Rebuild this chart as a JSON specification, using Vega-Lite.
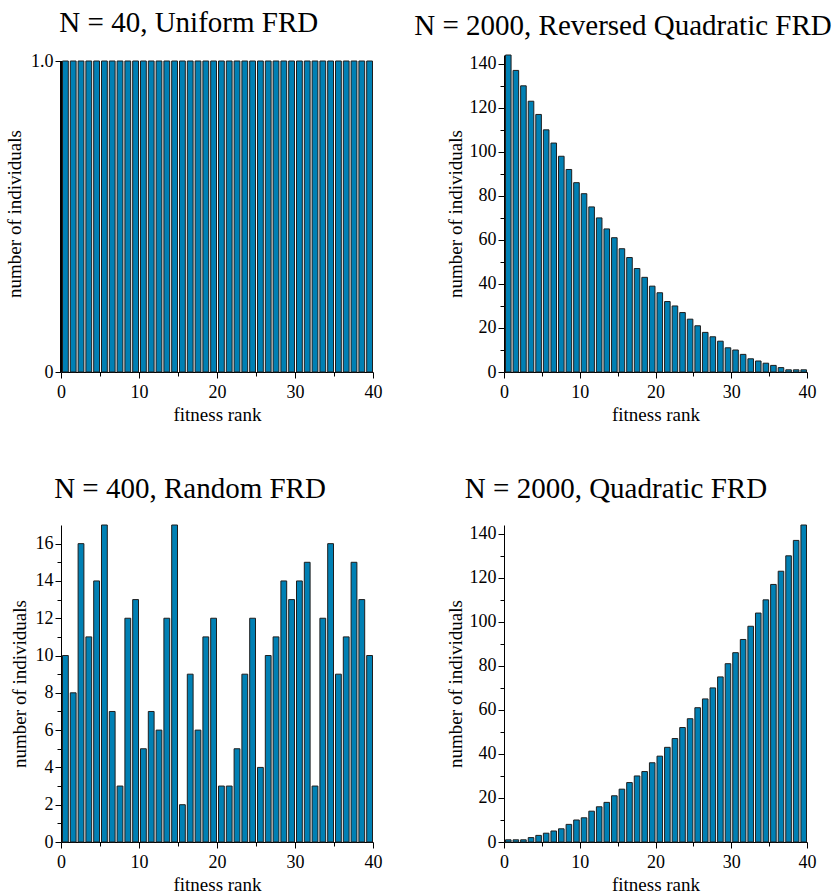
{
  "$schema": "https://vega.github.io/schema/vega-lite/v6.json",
  "padding": {"left": 5, "top": 9, "right": 5, "bottom": 0},
  "background": "white",
  "config": {
    "font": "Liberation Serif",
    "view": {"stroke": null},
    "bar": {"binSpacing": 2, "fill": "#0080b4", "stroke": "#1e1e1e", "strokeWidth": 1},
    "axis": {
      "labelFont": "Liberation Serif", "labelFontSize": 18, "labelColor": "black",
      "titleFont": "Liberation Serif", "titleFontSize": 19, "titleFontWeight": "normal", "titleColor": "black",
      "domainColor": "black", "tickColor": "black", "grid": false, "labelPadding": 2, "labelOverlap": false, "labelFlush": false
    },
    "axisX": {"labelPadding": 5},
    "title": {"font": "Liberation Serif", "fontSize": 29, "fontWeight": "normal", "color": "black", "anchor": "middle", "frame": "bounds"}
  },
  "datasets": {
    "uniform": [
      {"rank":0,"count":1},{"rank":1,"count":1},{"rank":2,"count":1},{"rank":3,"count":1},{"rank":4,"count":1},
      {"rank":5,"count":1},{"rank":6,"count":1},{"rank":7,"count":1},{"rank":8,"count":1},{"rank":9,"count":1},
      {"rank":10,"count":1},{"rank":11,"count":1},{"rank":12,"count":1},{"rank":13,"count":1},{"rank":14,"count":1},
      {"rank":15,"count":1},{"rank":16,"count":1},{"rank":17,"count":1},{"rank":18,"count":1},{"rank":19,"count":1},
      {"rank":20,"count":1},{"rank":21,"count":1},{"rank":22,"count":1},{"rank":23,"count":1},{"rank":24,"count":1},
      {"rank":25,"count":1},{"rank":26,"count":1},{"rank":27,"count":1},{"rank":28,"count":1},{"rank":29,"count":1},
      {"rank":30,"count":1},{"rank":31,"count":1},{"rank":32,"count":1},{"rank":33,"count":1},{"rank":34,"count":1},
      {"rank":35,"count":1},{"rank":36,"count":1},{"rank":37,"count":1},{"rank":38,"count":1},{"rank":39,"count":1}
    ],
    "revquad": [
      {"rank":0,"count":144},{"rank":1,"count":137},{"rank":2,"count":130},{"rank":3,"count":123},{"rank":4,"count":117},
      {"rank":5,"count":110},{"rank":6,"count":104},{"rank":7,"count":98},{"rank":8,"count":92},{"rank":9,"count":86},
      {"rank":10,"count":81},{"rank":11,"count":75},{"rank":12,"count":70},{"rank":13,"count":65},{"rank":14,"count":61},
      {"rank":15,"count":56},{"rank":16,"count":52},{"rank":17,"count":47},{"rank":18,"count":43},{"rank":19,"count":39},
      {"rank":20,"count":36},{"rank":21,"count":32},{"rank":22,"count":30},{"rank":23,"count":27},{"rank":24,"count":24},
      {"rank":25,"count":21},{"rank":26,"count":18},{"rank":27,"count":16},{"rank":28,"count":14},{"rank":29,"count":11},
      {"rank":30,"count":10},{"rank":31,"count":8},{"rank":32,"count":6},{"rank":33,"count":5},{"rank":34,"count":4},
      {"rank":35,"count":3},{"rank":36,"count":2},{"rank":37,"count":1},{"rank":38,"count":1},{"rank":39,"count":1}
    ],
    "random": [
      {"rank":0,"count":10},{"rank":1,"count":8},{"rank":2,"count":16},{"rank":3,"count":11},{"rank":4,"count":14},
      {"rank":5,"count":17},{"rank":6,"count":7},{"rank":7,"count":3},{"rank":8,"count":12},{"rank":9,"count":13},
      {"rank":10,"count":5},{"rank":11,"count":7},{"rank":12,"count":6},{"rank":13,"count":12},{"rank":14,"count":17},
      {"rank":15,"count":2},{"rank":16,"count":9},{"rank":17,"count":6},{"rank":18,"count":11},{"rank":19,"count":12},
      {"rank":20,"count":3},{"rank":21,"count":3},{"rank":22,"count":5},{"rank":23,"count":9},{"rank":24,"count":12},
      {"rank":25,"count":4},{"rank":26,"count":10},{"rank":27,"count":11},{"rank":28,"count":14},{"rank":29,"count":13},
      {"rank":30,"count":14},{"rank":31,"count":15},{"rank":32,"count":3},{"rank":33,"count":12},{"rank":34,"count":16},
      {"rank":35,"count":9},{"rank":36,"count":11},{"rank":37,"count":15},{"rank":38,"count":13},{"rank":39,"count":10}
    ],
    "quad": [
      {"rank":0,"count":1},{"rank":1,"count":1},{"rank":2,"count":1},{"rank":3,"count":2},{"rank":4,"count":3},
      {"rank":5,"count":4},{"rank":6,"count":5},{"rank":7,"count":6},{"rank":8,"count":8},{"rank":9,"count":10},
      {"rank":10,"count":11},{"rank":11,"count":14},{"rank":12,"count":16},{"rank":13,"count":18},{"rank":14,"count":21},
      {"rank":15,"count":24},{"rank":16,"count":27},{"rank":17,"count":30},{"rank":18,"count":32},{"rank":19,"count":36},
      {"rank":20,"count":39},{"rank":21,"count":43},{"rank":22,"count":47},{"rank":23,"count":52},{"rank":24,"count":56},
      {"rank":25,"count":61},{"rank":26,"count":65},{"rank":27,"count":70},{"rank":28,"count":75},{"rank":29,"count":81},
      {"rank":30,"count":86},{"rank":31,"count":92},{"rank":32,"count":98},{"rank":33,"count":104},{"rank":34,"count":110},
      {"rank":35,"count":117},{"rank":36,"count":123},{"rank":37,"count":130},{"rank":38,"count":137},{"rank":39,"count":144}
    ]
  },
  "bounds": "flush",
  "columns": 2,
  "spacing": {"row": 153, "column": 131},
  "concat": [
    {
      "title": {"text": "N = 40, Uniform FRD", "dx": -5, "offset": 14},
      "width": 312, "height": 317,
      "data": {"name": "uniform"},
      "layer": [
        {
          "mark": {"type": "bar"},
          "encoding": {
            "x": {"field": "rank", "type": "quantitative", "bin": {"binned": true, "step": 1}, "scale": {"domain": [0, 40]},
              "axis": {"title": "fitness rank", "values": [0,5,10,15,20,25,30,35,40], "labelExpr": "datum.value % 10 === 0 ? datum.label : ''",
                "labelFont": "Liberation Serif", "labelFontSize": 18, "titleFont": "Liberation Serif", "titleFontSize": 19, "labelPadding": 5,
                "tickSize": {"condition": {"test": "datum.value % 10 !== 0", "value": 4}, "value": 6}, "titlePadding": 4}},
            "y": {"field": "count", "type": "quantitative", "scale": {"domain": [0, 1.0193], "nice": false},
              "axis": {"title": "number of individuals", "domain": false, "values": [0, 1], "labelExpr": "datum.value === 1 ? '1.0' : '0'",
                "labelFont": "Liberation Serif", "labelFontSize": 18, "titleFont": "Liberation Serif", "titleFontSize": 19,
                "tickSize": 6, "titlePadding": 6}}
          }
        },
        {
          "mark": {"type": "rule", "color": "black", "strokeWidth": 1},
          "encoding": {"x": {"datum": 0}, "y": {"datum": 0}, "y2": {"datum": 1}}
        }
      ]
    },
    {
      "title": {"text": "N = 2000, Reversed Quadratic FRD", "dx": -8, "offset": 14},
      "width": 303, "height": 317,
      "data": {"name": "revquad"},
      "mark": {"type": "bar"},
      "encoding": {
        "x": {"field": "rank", "type": "quantitative", "bin": {"binned": true, "step": 1}, "scale": {"domain": [0, 40]},
          "axis": {"title": "fitness rank", "values": [0,5,10,15,20,25,30,35,40], "labelExpr": "datum.value % 10 === 0 ? datum.label : ''",
            "labelFont": "Liberation Serif", "labelFontSize": 18, "titleFont": "Liberation Serif", "titleFontSize": 19, "labelPadding": 5,
            "tickSize": {"condition": {"test": "datum.value % 10 !== 0", "value": 4}, "value": 6}, "titlePadding": 4}},
        "y": {"field": "count", "type": "quantitative", "scale": {"domain": [0, 144], "nice": false},
          "axis": {"title": "number of individuals", "values": [0,10,20,30,40,50,60,70,80,90,100,110,120,130,140], "labelExpr": "datum.value % 20 === 0 ? datum.label : ''",
            "labelFont": "Liberation Serif", "labelFontSize": 18, "titleFont": "Liberation Serif", "titleFontSize": 19,
            "tickSize": {"condition": {"test": "datum.value % 20 !== 0", "value": 4}, "value": 6}, "titlePadding": 4}}
      }
    },
    {
      "title": {"text": "N = 400, Random FRD", "dx": -6, "offset": 21},
      "width": 312, "height": 317,
      "data": {"name": "random"},
      "mark": {"type": "bar"},
      "encoding": {
        "x": {"field": "rank", "type": "quantitative", "bin": {"binned": true, "step": 1}, "scale": {"domain": [0, 40]},
          "axis": {"title": "fitness rank", "values": [0,5,10,15,20,25,30,35,40], "labelExpr": "datum.value % 10 === 0 ? datum.label : ''",
            "labelFont": "Liberation Serif", "labelFontSize": 18, "titleFont": "Liberation Serif", "titleFontSize": 19, "labelPadding": 5,
            "tickSize": {"condition": {"test": "datum.value % 10 !== 0", "value": 4}, "value": 6}, "titlePadding": 4}},
        "y": {"field": "count", "type": "quantitative", "scale": {"domain": [0, 17], "nice": false},
          "axis": {"title": "number of individuals", "values": [0,1,2,3,4,5,6,7,8,9,10,11,12,13,14,15,16], "labelExpr": "datum.value % 2 === 0 ? datum.label : ''",
            "labelFont": "Liberation Serif", "labelFontSize": 18, "titleFont": "Liberation Serif", "titleFontSize": 19,
            "tickSize": {"condition": {"test": "datum.value % 2 !== 0", "value": 4}, "value": 6}, "titlePadding": 6}}
      }
    },
    {
      "title": {"text": "N = 2000, Quadratic FRD", "dx": -15, "offset": 21},
      "width": 303, "height": 317,
      "data": {"name": "quad"},
      "mark": {"type": "bar"},
      "encoding": {
        "x": {"field": "rank", "type": "quantitative", "bin": {"binned": true, "step": 1}, "scale": {"domain": [0, 40]},
          "axis": {"title": "fitness rank", "values": [0,5,10,15,20,25,30,35,40], "labelExpr": "datum.value % 10 === 0 ? datum.label : ''",
            "labelFont": "Liberation Serif", "labelFontSize": 18, "titleFont": "Liberation Serif", "titleFontSize": 19, "labelPadding": 5,
            "tickSize": {"condition": {"test": "datum.value % 10 !== 0", "value": 4}, "value": 6}, "titlePadding": 4}},
        "y": {"field": "count", "type": "quantitative", "scale": {"domain": [0, 144], "nice": false},
          "axis": {"title": "number of individuals", "values": [0,10,20,30,40,50,60,70,80,90,100,110,120,130,140], "labelExpr": "datum.value % 20 === 0 ? datum.label : ''",
            "labelFont": "Liberation Serif", "labelFontSize": 18, "titleFont": "Liberation Serif", "titleFontSize": 19,
            "tickSize": {"condition": {"test": "datum.value % 20 !== 0", "value": 4}, "value": 6}, "titlePadding": 4}}
      }
    }
  ]
}
